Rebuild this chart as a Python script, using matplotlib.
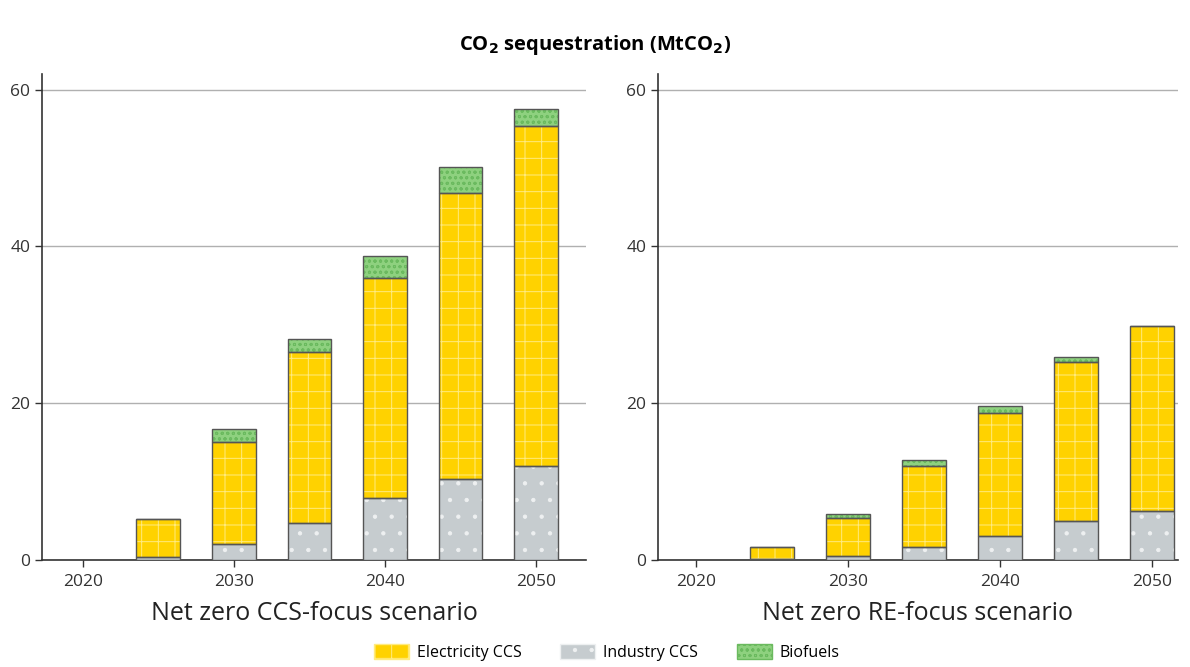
import matplotlib.pyplot as plt
from matplotlib.patches import Patch

plt.rcParams['font.family'] = ['Open Sans', 'DejaVu Sans']
plt.rcParams['hatch.linewidth'] = 0.7

years = [2020, 2025, 2030, 2035, 2040, 2045, 2050]
tick_years = [2020, 2030, 2040, 2050]

# Net zero CCS-focus scenario
ccs_industry = [0, 0.4, 2.0, 4.7, 7.9, 10.3, 12.0]
ccs_elec = [0, 4.8, 13.1, 21.8, 28.1, 36.5, 43.4]
ccs_bio = [0, 0, 1.6, 1.7, 2.8, 3.3, 2.1]

# Net zero RE-focus scenario
re_industry = [0, 0.1, 0.5, 1.6, 3.1, 5.0, 6.3]
re_elec = [0, 1.6, 4.8, 10.4, 15.7, 20.2, 23.5]
re_bio = [0, 0, 0.6, 0.7, 0.8, 0.7, 0.1]

titles = ['Net zero CCS-focus scenario', 'Net zero RE-focus scenario']
series_names = ['Electricity CCS', 'Industry CCS', 'Biofuels']

yellow = '#FFD200'
grey = '#C6CCCF'
green = '#8ED17F'
edge = '#555555'
W = 2.9


def stack(ax, vals, bottom, face, hatch, hcol):
    ax.bar(years, vals, W, bottom=bottom, color=face, hatch=hatch,
           edgecolor=hcol, linewidth=0, zorder=3)
    ax.bar(years, vals, W, bottom=bottom, fill=False, edgecolor=edge,
           linewidth=1.0, zorder=4)


fig = plt.figure(figsize=(11.9, 6.67), dpi=100)
ax1 = fig.add_axes([0.0353, 0.1604, 0.4571, 0.7287])
ax2 = fig.add_axes([0.5529, 0.1604, 0.4370, 0.7287])

data = [(ccs_industry, ccs_elec, ccs_bio), (re_industry, re_elec, re_bio)]
xlims = [(2017.3, 2053.3), (2017.5, 2051.7)]

for ax, (ind, el, bio), t, xl in zip([ax1, ax2], data, titles, xlims):
    b1 = [0] * len(years)
    b2 = [a + b for a, b in zip(ind, el)]
    stack(ax, ind, b1, grey, '.', '#EEF0F1')
    stack(ax, el, ind, yellow, '+', '#FFEB80')
    stack(ax, bio, b2, green, 'ooo', '#6BBA5F')
    ax.set_ylim(0, 62)
    ax.set_xlim(*xl)
    ax.set_yticks([0, 20, 40, 60])
    ax.set_xticks(tick_years)
    ax.grid(axis='y', color='#B0B0B0', linewidth=1.0, zorder=0)
    ax.set_axisbelow(True)
    for s in ['top', 'right']:
        ax.spines[s].set_visible(False)
    for s in ['left', 'bottom']:
        ax.spines[s].set_color('#333333')
        ax.spines[s].set_linewidth(1.2)
    ax.tick_params(axis='both', labelsize=12.5, colors='#333333', length=5, width=1.0)
    ax.tick_params(axis='x', pad=5)
    ax.set_xlabel(t, fontsize=18, color='#222222', labelpad=8)

fig.suptitle(r'CO$_\mathbf{2}$ sequestration (MtCO$_\mathbf{2}$)', fontsize=14.5,
             fontweight='bold', y=0.95)

handles = [Patch(facecolor=yellow, edgecolor='#FFEB80', hatch='+'),
           Patch(facecolor=grey, edgecolor='#EEF0F1', hatch='.'),
           Patch(facecolor=green, edgecolor='#6BBA5F', hatch='ooo')]
fig.legend(handles, series_names, loc='lower center', ncol=3, frameon=False,
           fontsize=11.5, bbox_to_anchor=(0.51, -0.012), handlelength=2.2,
           handleheight=1.1, columnspacing=2.4, handletextpad=0.5)

fig.savefig('out.png', dpi=100)
